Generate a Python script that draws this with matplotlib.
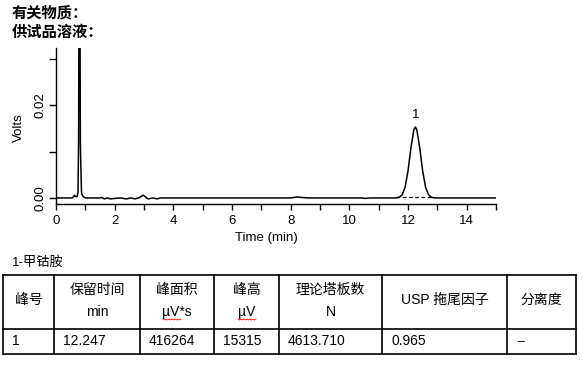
import matplotlib
matplotlib.use("Agg")
import matplotlib.pyplot as plt
from matplotlib.lines import Line2D

plt.rcParams['font.family'] = ['Liberation Sans', 'Noto Sans CJK SC', 'DejaVu Sans']

# ---- data ----
time_min = [0.0, 0.55, 0.60, 0.63, 0.66, 0.72, 0.75, 0.77, 0.78, 0.80, 0.82, 0.83, 0.85, 0.87,
            0.90, 0.95, 1.00, 1.50, 1.55, 1.65, 1.75, 1.85, 2.00, 2.20, 2.40, 2.55, 2.70, 2.85,
            2.92, 2.97, 3.02, 3.08, 3.15, 3.30, 3.45, 3.55, 3.70, 8.00, 8.20, 8.40, 8.60,
            10.40, 10.55, 10.70, 11.40, 11.60, 11.70, 11.80, 11.90, 12.00, 12.10, 12.20, 12.25,
            12.30, 12.40, 12.50, 12.60, 12.70, 12.80, 12.90, 13.00, 15.00]
volts = [0.0, 0.0, 0.0003, 0.0006, 0.0003, 0.0003, 0.0012, 0.0120, 0.0360, 0.0360, 0.0360, 0.0120,
         0.0060, 0.0012, 0.0005, 0.0002, 0.0, 0.0, 0.0001, -0.0002, 0.0, -0.0002, -0.0001, 0.0,
         -0.0002, 0.0, -0.0002, 0.0001, 0.0004, 0.0006, 0.0004, 0.0, -0.0002, 0.0, -0.0002, 0.0,
         0.0, 0.0, 0.0002, 0.0001, 0.0, 0.0, -0.0001, 0.0, 0.0, 0.00002, 0.00014, 0.00067,
         0.0023, 0.0058, 0.0108, 0.0147, 0.0153, 0.0147, 0.0108, 0.0058, 0.0023, 0.00067,
         0.00014, 0.00002, 0.0, 0.0]
baseline_t = [11.60, 12.90]
baseline_v = [0.0003, 0.0003]
peak_rt = 12.247
peak_h = 0.0153
peak_label = "1"

header_lines = ["有关物质：", "供试品溶液："]
table_title = "1-甲钴胺"
col_headers = [["峰号"], ["保留时间", "min"], ["峰面积", "µV*s"], ["峰高", "µV"],
               ["理论塔板数", "N"], ["USP 拖尾因子"], ["分离度"]]
row_values = ["1", "12.247", "416264", "15315", "4613.710", "0.965", "--"]

W, H = 583, 365
fig = plt.figure(figsize=(W / 100, H / 100), dpi=100)

def fx(px):
    return px / W

def fy(py):
    return 1 - py / H

ax = fig.add_axes([fx(56), fy(204), fx(496) - fx(56), fy(48) - fy(204)])
ax.plot(time_min, volts, color='black', lw=1.1, clip_on=True)
ax.plot(baseline_t, baseline_v, color='black', lw=0.9, ls=(0, (3, 2)))
ax.annotate(peak_label, (peak_rt, peak_h), xytext=(0, 4), textcoords='offset points',
            ha='center', va='bottom', fontsize=9.5)
ax.set_xlim(0, 15)
ax.set_ylim(-0.0013, 0.0323)
for s in ['top', 'right']:
    ax.spines[s].set_visible(False)
for s in ['left', 'bottom']:
    ax.spines[s].set_linewidth(1.0)
ax.set_xticks(range(0, 16))
ax.set_xticklabels([str(i) if i % 2 == 0 and i < 15 else '' for i in range(16)])
ax.set_yticks([0.0, 0.01, 0.02, 0.03])
ax.set_yticklabels(['0.00', '', '0.02', ''])
ax.tick_params(axis='x', length=4, width=1, labelsize=9.5, pad=4)
ax.tick_params(axis='y', length=5, width=1, labelsize=9.5, pad=2)
for lab in ax.get_yticklabels():
    lab.set_rotation(90)
    lab.set_va('center')
ax.set_xlabel("Time (min)", fontsize=9.5)
ax.xaxis.set_label_coords((266.5 - 56) / 440, (204 - 238) / 156 , transform=ax.transAxes)
ax.xaxis.label.set_va('center')
ax.set_ylabel("Volts", fontsize=9.5)
ax.yaxis.set_label_coords((19 - 56) / 440, (204 - 128) / 156, transform=ax.transAxes)
ax.yaxis.label.set_va('center')

# header texts
fig.text(fx(12), fy(13), header_lines[0], fontsize=11, fontweight='bold', va='center', ha='left')
fig.text(fx(12), fy(33), header_lines[1], fontsize=11, fontweight='bold', va='center', ha='left')

# table
fig.text(fx(12), fy(262), table_title, fontsize=9.5, va='center', ha='left')
col_x = [3, 54, 140, 214, 279, 382, 507, 576]
y_top, y_mid, y_bot = 275, 329, 354
lw = 1.2
for yy in (y_top, y_mid, y_bot):
    fig.add_artist(Line2D([fx(col_x[0]), fx(col_x[-1])], [fy(yy), fy(yy)], color='black', lw=lw))
for xx in col_x:
    fig.add_artist(Line2D([fx(xx), fx(xx)], [fy(y_top), fy(y_bot)], color='black', lw=lw))
for i, hdr in enumerate(col_headers):
    cx = (col_x[i] + col_x[i + 1]) / 2
    if len(hdr) == 1:
        fig.text(fx(cx), fy(300), hdr[0], fontsize=10, ha='center', va='center')
    else:
        fig.text(fx(cx), fy(290), hdr[0], fontsize=10, ha='center', va='center')
        fig.text(fx(cx), fy(312), hdr[1], fontsize=10, ha='center', va='center')
for i, val in enumerate(row_values):
    fig.text(fx(col_x[i] + 9), fy(341), val, fontsize=10, ha='left', va='center')

# red spell-check wavy underline under µV
for x0, x1 in [(163, 181), (238, 256)]:
    xs, ys = [], []
    k = 0
    xx = x0
    while xx <= x1:
        xs.append(fx(xx))
        ys.append(fy(319 + (1 if k % 2 else 0)))
        xx += 1.5
        k += 1
    fig.add_artist(Line2D(xs, ys, color='red', lw=0.6))

fig.savefig("out.png", dpi=100)
